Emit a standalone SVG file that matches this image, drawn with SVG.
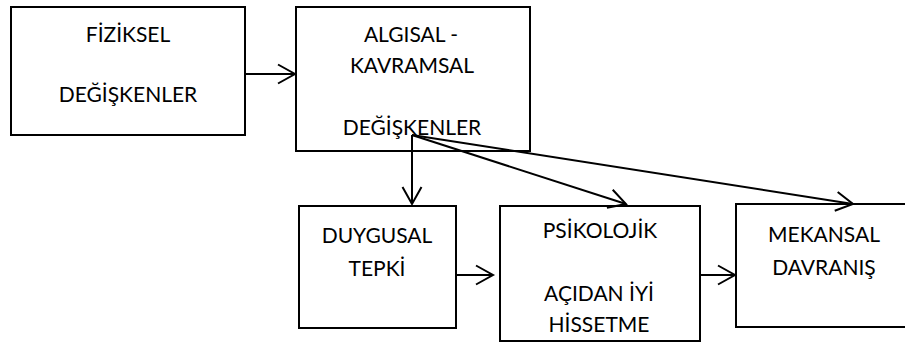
<svg xmlns="http://www.w3.org/2000/svg" width="905" height="343" viewBox="0 0 905 343">
<style>
.box{fill:#fff;stroke:#000;stroke-width:2}
.lbl{font-family:Lato,"Open Sans","Liberation Sans",sans-serif;font-size:21px;fill:#000;text-anchor:middle}
.con{stroke:#000;stroke-width:2;fill:none}
</style>
<defs>
<marker id="arr" markerUnits="userSpaceOnUse" markerWidth="20" markerHeight="22" refX="17" refY="10" orient="auto" overflow="visible">
<path d="M0,0.5 L17,10 L0,19.5" fill="none" stroke="#000" stroke-width="2"/>
</marker>
</defs>
<rect width="905" height="343" fill="#fff"/>
<g id="fiziksel">
<rect class="box" x="11" y="7" width="234" height="128"/>
<text class="lbl" x="128" y="42">FİZİKSEL</text>
<text class="lbl" x="128" y="102">DEĞİŞKENLER</text>
</g>
<g id="algisal">
<rect class="box" x="296" y="7" width="234" height="144"/>
<text class="lbl" x="411" y="42">ALGISAL -</text>
<text class="lbl" x="412" y="73">KAVRAMSAL</text>
<text class="lbl" x="412" y="135">DEĞİŞKENLER</text>
</g>
<g id="duygusal">
<rect class="box" x="299" y="206" width="157" height="122"/>
<text class="lbl" x="377" y="243">DUYGUSAL</text>
<text class="lbl" x="377" y="276">TEPKİ</text>
</g>
<g id="psikolojik">
<rect class="box" x="500" y="206" width="200" height="135"/>
<text class="lbl" x="600" y="238">PSİKOLOJİK</text>
<text class="lbl" x="599" y="301">AÇIDAN İYİ</text>
<text class="lbl" x="599" y="332">HİSSETME</text>
</g>
<g id="mekansal">
<rect class="box" x="736" y="204" width="180" height="123"/>
<text class="lbl" x="824" y="242">MEKANSAL</text>
<text class="lbl" x="824" y="275">DAVRANIŞ</text>
</g>
<g id="connectors">
<line class="con" x1="245" y1="74" x2="295" y2="74" marker-end="url(#arr)"/>
<line class="con" x1="412" y1="135" x2="412" y2="204" marker-end="url(#arr)"/>
<line class="con" x1="412" y1="135" x2="626" y2="204" marker-end="url(#arr)"/>
<line class="con" x1="412" y1="135" x2="853" y2="204" marker-end="url(#arr)"/>
<line class="con" x1="456" y1="275" x2="493" y2="275" marker-end="url(#arr)"/>
<line class="con" x1="700" y1="275" x2="735" y2="275" marker-end="url(#arr)"/>
</g>
</svg>
